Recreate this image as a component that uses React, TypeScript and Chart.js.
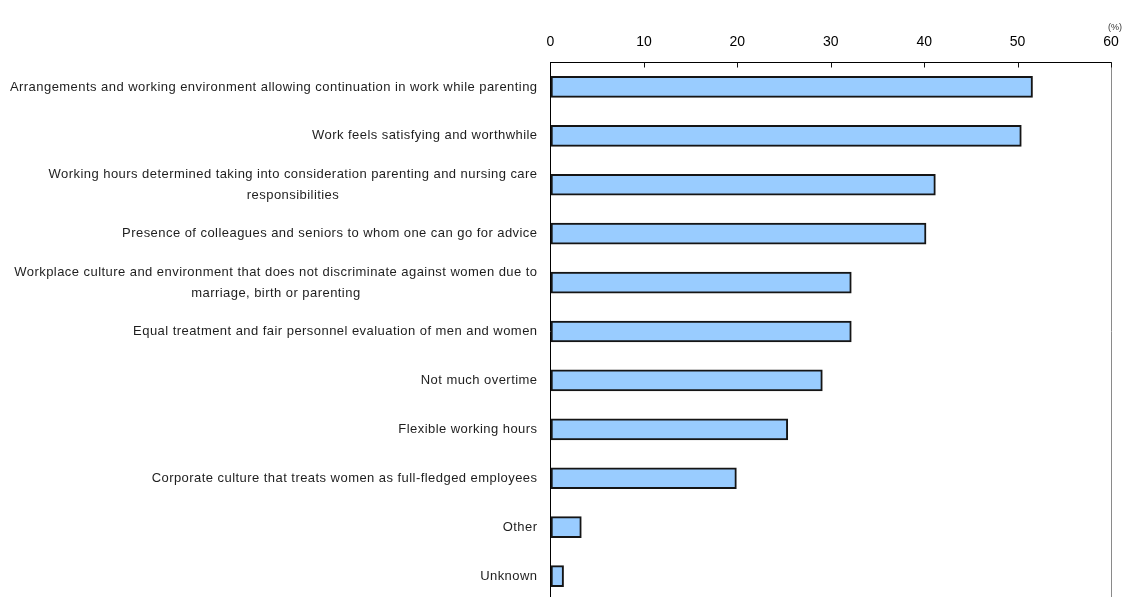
import React, { useEffect, useRef } from "react";
import { Chart, registerables } from "chart.js";

Chart.register(...registerables);

// Category labels (wrapped ones are given as separate lines)
const categories: (string | string[])[] = [
  "Arrangements and working environment allowing continuation in work while parenting",
  "Work feels satisfying and worthwhile",
  ["Working hours determined taking into consideration parenting and nursing care", "responsibilities"],
  "Presence of colleagues and seniors to whom one can go for advice",
  ["Workplace culture and environment that does not discriminate against women due to", "marriage, birth or parenting"],
  "Equal treatment and fair personnel evaluation of men and women",
  "Not much overtime",
  "Flexible working hours",
  "Corporate culture that treats women as full-fledged employees",
  "Other",
  "Unknown",
];

// Share of respondents (%)
const values: number[] = [51.6, 50.4, 41.2, 40.2, 32.2, 32.2, 29.1, 25.4, 19.9, 3.3, 1.4];

const axisMin = 0;
const axisMax = 60;
const axisStep = 10;
const unitLabel = "(%)";

const LABEL_FONT = '13px "Liberation Sans", Arial, sans-serif';

const decorPlugin = {
  id: "decor",
  afterDraw(chart: any) {
    const { ctx, chartArea, scales } = chart;
    const x = scales.x;
    const y = scales.y;
    ctx.save();

    // right frame edge
    ctx.strokeStyle = "#8a8a8a";
    ctx.lineWidth = 1;
    ctx.beginPath();
    ctx.moveTo(Math.round(chartArea.right) + 0.5, chartArea.top);
    ctx.lineTo(Math.round(chartArea.right) + 0.5, chartArea.bottom);
    ctx.stroke();

    // inward tick marks on the top axis
    ctx.strokeStyle = "#111";
    for (let v = axisMin + axisStep; v <= axisMax; v += axisStep) {
      const px = Math.round(x.getPixelForValue(v)) + 0.5;
      ctx.beginPath();
      ctx.moveTo(px, chartArea.top);
      ctx.lineTo(px, chartArea.top + 5);
      ctx.stroke();
    }

    // category labels: block right-aligned, lines centred within the block
    ctx.font = LABEL_FONT;
    (ctx as any).letterSpacing = "0.45px";
    ctx.fillStyle = "#1e1e1e";
    ctx.textBaseline = "middle";
    ctx.textAlign = "center";
    const rightEdge = chartArea.left - 13;
    const lineH = 21;
    categories.forEach((lab, i) => {
      const lines = Array.isArray(lab) ? lab : [lab];
      const cy = y.getPixelForTick(i);
      const widths = lines.map((l) => ctx.measureText(l).width);
      const w = Math.max(...widths);
      const cx = rightEdge - w / 2;
      lines.forEach((l, k) => {
        const ly = cy + (k - (lines.length - 1) / 2) * lineH;
        ctx.fillText(l, cx, ly);
      });
    });
    (ctx as any).letterSpacing = "0px";

    // unit label
    ctx.font = '9px "Liberation Sans", Arial, sans-serif';
    ctx.fillStyle = "#333";
    ctx.textAlign = "center";
    ctx.fillText(unitLabel, 1115, 28);
    ctx.restore();
  },
};

export default function App() {
  const ref = useRef<HTMLCanvasElement>(null);

  useEffect(() => {
    document.body.style.margin = "0";
    document.body.style.overflow = "hidden";
    const canvas = ref.current!;
    const chart = new Chart(canvas, {
      type: "bar",
      data: {
        labels: categories.map((c) => (Array.isArray(c) ? c.join(" ") : c)),
        datasets: [
          {
            data: values,
            backgroundColor: "#99CCFF",
            borderColor: "#151515",
            borderWidth: 2,
            borderSkipped: false,
            barThickness: 21,
          },
        ],
      },
      options: {
        indexAxis: "y",
        animation: false,
        responsive: false,
        devicePixelRatio: 1,
        layout: { padding: { left: 0, right: 16, top: 0, bottom: 9.5 } },
        plugins: { legend: { display: false }, tooltip: { enabled: false } },
        scales: {
          x: {
            position: "top",
            min: axisMin,
            max: axisMax,
            ticks: {
              stepSize: axisStep,
              color: "#000",
              padding: 1.6,
              font: { family: '"Liberation Sans", Arial, sans-serif', size: 14 },
            },
            grid: {
              display: true,
              drawOnChartArea: false,
              drawTicks: true,
              tickLength: 10,
              tickColor: "rgba(0,0,0,0)",
            },
            border: { display: true, color: "#000", width: 1 },
            afterFit(scale: any) {
              scale.height = 62.5;
            },
          },
          y: {
            ticks: { display: false },
            grid: { display: false },
            border: { display: true, color: "#000", width: 1 },
            afterFit(scale: any) {
              scale.width = 550.5;
            },
          },
        },
      },
      plugins: [decorPlugin],
    });
    return () => chart.destroy();
  }, []);

  return (
    <div style={{ position: "absolute", left: 0, top: 0, width: 1127, height: 610 }}>
      <canvas ref={ref} width={1127} height={610} />
    </div>
  );
}
